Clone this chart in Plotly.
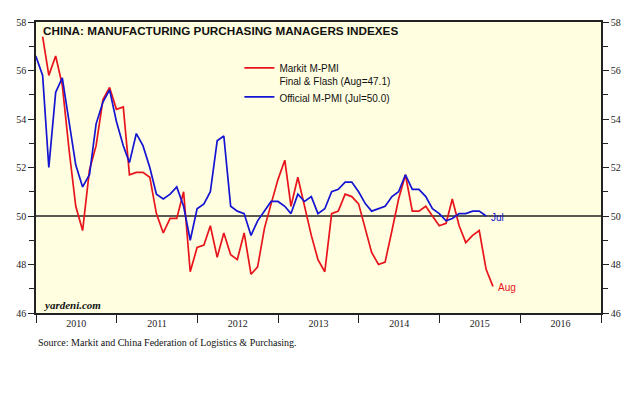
import pandas as pd
import plotly.graph_objects as go

# Markit (Caixin/HSBC) manufacturing PMI, Jan 2010 - Aug 2015
markit_start = "2010-01"
markit_pmi = [
    57.4, 55.8, 56.6, 55.4, 52.7, 50.4, 49.4, 51.9, 52.9, 54.8, 55.3, 54.4,
    54.5, 51.7, 51.8, 51.8, 51.6, 50.1, 49.3, 49.9, 49.9, 51.0, 47.7, 48.7,
    48.8, 49.6, 48.3, 49.3, 48.4, 48.2, 49.3, 47.6, 47.9, 49.5, 50.5, 51.5,
    52.3, 50.4, 51.6, 50.4, 49.2, 48.2, 47.7, 50.1, 50.2, 50.9, 50.8, 50.5,
    49.5, 48.5, 48.0, 48.1, 49.4, 50.7, 51.7, 50.2, 50.2, 50.4, 50.0, 49.6,
    49.7, 50.7, 49.6, 48.9, 49.2, 49.4, 47.8, 47.1,
]
# Official (NBS/CFLP) manufacturing PMI, Dec 2009 - Jul 2015
official_start = "2009-12"
official_pmi = [
    56.6,
    55.8, 52.0, 55.1, 55.7, 53.9, 52.1, 51.2, 51.7, 53.8, 54.7, 55.2, 53.9,
    52.9, 52.2, 53.4, 52.9, 52.0, 50.9, 50.7, 50.9, 51.2, 50.4, 49.0, 50.3,
    50.5, 51.0, 53.1, 53.3, 50.4, 50.2, 50.1, 49.2, 49.8, 50.2, 50.6, 50.6,
    50.4, 50.1, 50.9, 50.6, 50.8, 50.1, 50.3, 51.0, 51.1, 51.4, 51.4, 51.0,
    50.5, 50.2, 50.3, 50.4, 50.8, 51.0, 51.7, 51.1, 51.1, 50.8, 50.3, 50.1,
    49.8, 49.9, 50.1, 50.1, 50.2, 50.2, 50.0,
]
x_range = ["2010-01-01", "2017-01-01"]
y_range = [46, 58]

markit_x = pd.date_range(markit_start, periods=len(markit_pmi), freq="ME")
official_x = pd.date_range(official_start, periods=len(official_pmi), freq="ME")

RED = "#E8141B"
BLUE = "#1414D2"
SERIF = "Liberation Serif, Times New Roman, serif"
SANS = "Liberation Sans, Arial, sans-serif"

fig = go.Figure()
fig.add_trace(go.Scatter(
    x=markit_x, y=markit_pmi, mode="lines",
    name="Markit M-PMI<br>Final & Flash (Aug=47.1)",
    line=dict(color=RED, width=1.7),
))
fig.add_trace(go.Scatter(
    x=official_x, y=official_pmi, mode="lines",
    name="Official M-PMI (Jul=50.0)",
    line=dict(color=BLUE, width=1.7),
))
# invisible copy to activate right axis
fig.add_trace(go.Scatter(
    x=official_x, y=official_pmi, mode="lines", yaxis="y2",
    line=dict(color="rgba(0,0,0,0)", width=0), showlegend=False, hoverinfo="skip",
))

fig.add_shape(type="line", xref="paper", x0=0, x1=1, yref="y", y0=50, y1=50,
              line=dict(color="#222222", width=1.5), layer="below")

fig.add_annotation(x=official_x[-1], y=official_pmi[-1], text="Jul", showarrow=False,
                   xanchor="left", yanchor="middle", xshift=3, yshift=-1,
                   font=dict(family=SANS, size=10, color=BLUE))
fig.add_annotation(x=markit_x[-1], y=markit_pmi[-1], text="Aug", showarrow=False,
                   xanchor="left", yanchor="middle", xshift=3, yshift=-1,
                   font=dict(family=SANS, size=10, color=RED))

fig.add_annotation(xref="paper", yref="paper", x=0.008, y=1.0, yshift=0,
                   xanchor="left", yanchor="top",
                   text="<b>CHINA: MANUFACTURING PURCHASING MANAGERS INDEXES</b>",
                   showarrow=False, font=dict(family=SANS, size=11.7, color="#111111"))
fig.add_annotation(xref="paper", yref="paper", x=0.008, y=0.0, xanchor="left", yanchor="bottom",
                   text="<b><i>yardeni.com</i></b>", showarrow=False,
                   font=dict(family=SERIF, size=11, color="#111111"))
fig.add_annotation(xref="paper", yref="paper", x=0.0, y=-0.077, xanchor="left", yanchor="top",
                   text="Source: Markit and China Federation of Logistics & Purchasing.",
                   showarrow=False, font=dict(family=SERIF, size=10, color="#111111"))

yaxis_common = dict(
    range=y_range, dtick=2, tick0=46, ticks="outside", ticklen=6, tickwidth=1,
    tickcolor="#222222", showgrid=False, zeroline=False, showline=True,
    linecolor="#222222", linewidth=1.5,
    tickfont=dict(family=SERIF, size=10, color="#222222"),
    minor=dict(dtick=1, ticks="outside", ticklen=5, tickcolor="#222222"),
    fixedrange=True,
)

# page body has an 8px default margin; size figure so the plot lands where the reference has it
fig.update_layout(
    width=621, height=377,
    margin=dict(l=26, r=23, t=8, b=72),
    paper_bgcolor="white",
    plot_bgcolor="#FFFEE0",
    showlegend=True,
    legend=dict(x=0.36, y=0.887, xanchor="left", yanchor="top", bgcolor="rgba(0,0,0,0)",
                font=dict(family=SANS, size=10, color="#111111"), valign="top",
                tracegroupgap=0, itemwidth=30),
    xaxis=dict(
        type="date", range=x_range,
        dtick="M12", tick0="2010-01-01", tickformat="%Y",
        ticklabelmode="period", ticks="outside", ticklen=8, tickwidth=1.2,
        ticklabelstandoff=-8,
        tickcolor="#222222", showgrid=False, zeroline=False, showline=True,
        linecolor="#222222", linewidth=1.5, mirror=True,
        tickfont=dict(family=SERIF, size=10, color="#222222"),
    ),
    yaxis=dict(side="left", **yaxis_common),
    yaxis2=dict(side="right", overlaying="y", **yaxis_common),
)

fig.write_html("out.html")
